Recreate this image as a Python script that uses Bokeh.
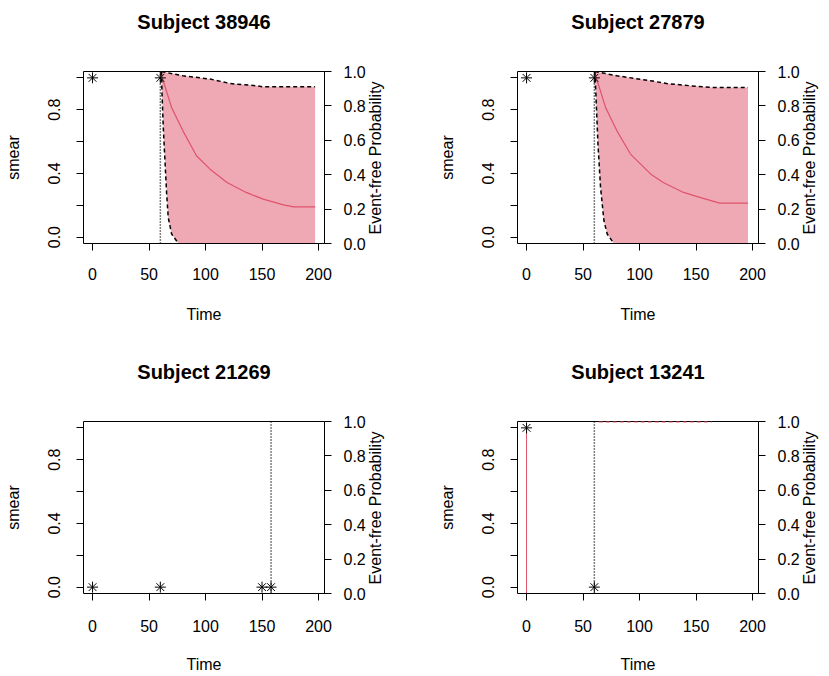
import math
from bokeh.plotting import figure
from bokeh.models import Range1d, LinearAxis, FixedTicker, Span, PrintfTickFormatter, Title
from bokeh.layouts import gridplot
from bokeh.embed import file_html
from bokeh.resources import INLINE

# ---------------- data ----------------
subjects = ["Subject 38946", "Subject 27879", "Subject 21269", "Subject 13241"]

obs_time_1 = [0, 60]
obs_smear_1 = [1, 1]
obs_time_2 = [0, 60]
obs_smear_2 = [1, 1]
obs_time_3 = [0, 60, 150, 158]
obs_smear_3 = [0, 0, 0, 0]
obs_time_4 = [0, 60]
obs_smear_4 = [1, 0]

last_visit = [60, 60, 158, 60]

surv_t_1 = [60, 70, 80, 92, 104, 119, 136, 151, 169, 178, 197]
surv_p_1 = [1.0, 0.79, 0.655, 0.51, 0.432, 0.355, 0.297, 0.258, 0.225, 0.213, 0.213]
upper_t_1 = [61, 80, 104, 122, 145, 151, 197]
upper_p_1 = [1.0, 0.975, 0.956, 0.93, 0.917, 0.911, 0.911]
lower_t_1 = [61, 61.5, 62.6, 64.1, 65.6, 67, 70, 76]
lower_p_1 = [1.0, 0.87, 0.675, 0.48, 0.287, 0.151, 0.055, 0.0]

surv_t_2 = [60, 70, 80, 92, 110, 121, 139, 154, 171, 196]
surv_p_2 = [1.0, 0.79, 0.655, 0.52, 0.403, 0.355, 0.297, 0.267, 0.235, 0.235]
upper_t_2 = [60.5, 80, 110, 124, 145, 165, 196]
upper_p_2 = [1.0, 0.975, 0.946, 0.93, 0.917, 0.907, 0.907]
lower_t_2 = [60.5, 62, 63.2, 65.5, 68.5, 71.4, 77.3]
lower_p_2 = [1.0, 0.77, 0.578, 0.326, 0.132, 0.055, 0.0]

# subject 13241: flat event-free curve and the fitted smear line at time 0
flat_t_4 = [64, 164]
flat_p_4 = [1.0, 1.0]
fit_t_4 = [0, 0]
fit_y_4 = [-0.04, 1.0]

x_ticks = [0, 50, 100, 150, 200]
left_major = [0.0, 0.4, 0.8]
left_minor = [0.2, 0.6, 1.0]
right_ticks = [0.0, 0.2, 0.4, 0.6, 0.8, 1.0]

X_MIN, X_MAX = -8, 205.3
RED = "#DF536B"
FONT = "Liberation Sans"
RIGHT_LABEL = "Event-free Probability"
RIGHT_LABEL_START = 0.053   # where the upward-reading right title begins


def style_axis(ax):
    ax.axis_line_color = "black"
    ax.major_tick_line_color = "black"
    ax.major_tick_out = 7
    ax.major_tick_in = 0
    ax.major_label_text_font = FONT
    ax.major_label_text_font_size = "16px"
    ax.major_label_text_color = "black"
    ax.axis_label_text_font = FONT
    ax.axis_label_text_font_size = "16px"
    ax.axis_label_text_font_style = "normal"
    ax.axis_label_text_color = "black"


def make_panel(title, width, height, ml, mr, mt, mb, xstd, xlstd):
    p = figure(width=width, height=height, output_backend="svg", toolbar_location=None,
               title=None,
               x_range=Range1d(X_MIN, X_MAX), y_range=Range1d(-0.04, 1.04),
               min_border_left=ml, min_border_right=mr, min_border_top=mt,
               min_border_bottom=mb)
    p.extra_y_ranges = {"surv": Range1d(0, 1)}
    p.background_fill_color = "white"
    p.border_fill_color = "white"
    p.outline_line_color = "black"
    p.outline_line_width = 1
    p.xgrid.visible = False
    p.ygrid.visible = False

    # spacer nearest the frame, then the real title above it
    p.add_layout(Title(text=" ", text_font_size="7px", text_color="white", standoff=30), "above")
    p.add_layout(Title(text=title, align="center", text_font=FONT, text_font_size="20px",
                       text_font_style="bold", text_color="black", standoff=0), "above")

    xa = p.xaxis[0]
    xa.ticker = FixedTicker(ticks=x_ticks)
    xa.bounds = (0, 200)
    xa.axis_label = "Time"
    xa.major_label_standoff = xstd
    xa.axis_label_standoff = xlstd
    style_axis(xa)
    xa.minor_tick_line_color = None

    ya = p.yaxis[0]
    ya.ticker = FixedTicker(ticks=left_major, minor_ticks=left_minor)
    ya.formatter = PrintfTickFormatter(format="%.1f")
    ya.bounds = (0, 1)
    ya.axis_label = "smear"
    ya.major_label_orientation = "vertical"
    ya.major_label_standoff = 16
    ya.axis_label_standoff = 24
    style_axis(ya)
    ya.minor_tick_out = 7
    ya.minor_tick_in = 0
    ya.minor_tick_line_color = "black"

    ra = LinearAxis(y_range_name="surv", ticker=FixedTicker(ticks=right_ticks),
                    formatter=PrintfTickFormatter(format="%.1f"))
    ra.major_label_standoff = 12
    style_axis(ra)
    ra.minor_tick_line_color = None
    p.add_layout(ra, "right")

    # right-hand title: an upward-reading single label on a bare axis
    la = LinearAxis(y_range_name="surv", ticker=FixedTicker(ticks=[RIGHT_LABEL_START]),
                    formatter=PrintfTickFormatter(format=RIGHT_LABEL))
    style_axis(la)
    la.axis_line_color = None
    la.major_tick_line_color = None
    la.minor_tick_line_color = None
    la.major_tick_out = 0
    la.major_label_orientation = math.pi / 2
    la.major_label_standoff = 7
    p.add_layout(la, "right")
    return p


def add_band(p, st, sp, ut, up, lt, lp):
    xs = list(ut) + [ut[-1]] + list(reversed(lt))
    ys = list(up) + [0.0] + list(reversed(lp))
    p.patch(xs, ys, fill_color=RED, fill_alpha=0.5, line_color=None, y_range_name="surv")
    p.line(st, sp, line_color=RED, line_width=1.2, y_range_name="surv")
    p.line(ut, up, line_color="black", line_width=1.5, line_dash="4 3", y_range_name="surv")
    p.line(lt, lp, line_color="black", line_width=1.5, line_dash="4 3", y_range_name="surv")


def add_common(p, ot, osm, lv):
    p.add_layout(Span(location=lv, dimension="height", line_color="black",
                      line_width=1.5, line_dash="1 2"))
    p.scatter(ot, osm, marker="asterisk", size=11, line_color="black", line_width=1)


p1 = make_panel(subjects[0], 420, 358, 83, 96, 71, 115, 17, 23)
add_band(p1, surv_t_1, surv_p_1, upper_t_1, upper_p_1, lower_t_1, lower_p_1)
add_common(p1, obs_time_1, obs_smear_1, last_visit[0])

p2 = make_panel(subjects[1], 409, 358, 97, 71, 71, 115, 17, 23)
add_band(p2, surv_t_2, surv_p_2, upper_t_2, upper_p_2, lower_t_2, lower_p_2)
add_common(p2, obs_time_2, obs_smear_2, last_visit[1])

p3 = make_panel(subjects[2], 420, 318, 83, 96, 63, 83, 19, 21)
add_common(p3, obs_time_3, obs_smear_3, last_visit[2])

p4 = make_panel(subjects[3], 409, 318, 97, 71, 63, 83, 19, 21)
p4.line(fit_t_4, fit_y_4, line_color=RED, line_width=1)
p4.line(flat_t_4, flat_p_4, line_color=RED, line_width=2, line_dash="4 3", y_range_name="surv")
add_common(p4, obs_time_4, obs_smear_4, last_visit[3])

grid = gridplot([[p1, p2], [p3, p4]], toolbar_location=None)

open("out.html", "w").write(file_html(grid, INLINE))
